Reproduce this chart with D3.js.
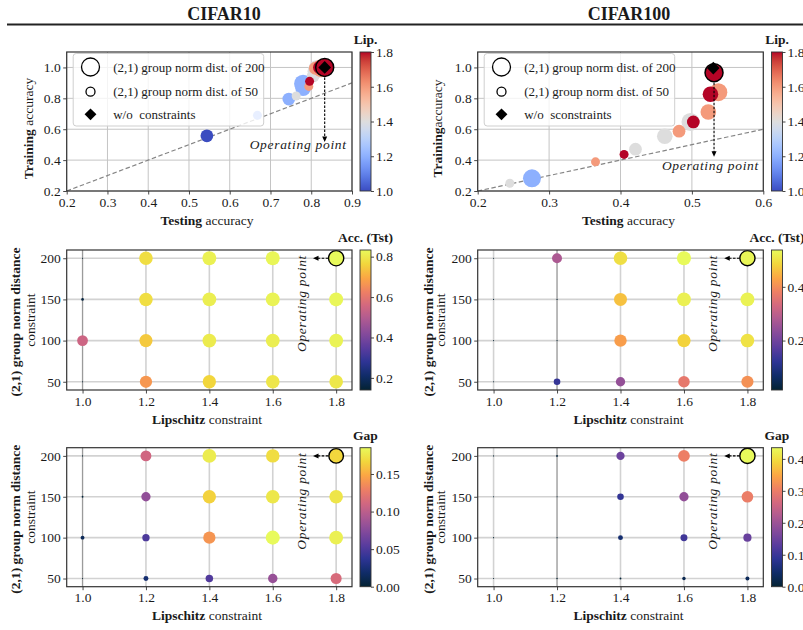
<!DOCTYPE html>
<html><head><meta charset="utf-8">
<script src="https://cdn.jsdelivr.net/npm/d3@7"></script>
<style>
body{margin:0;background:#fff}
svg text{font-family:"Liberation Serif","Times New Roman",serif;fill:#1a1a1a;white-space:pre}
</style></head><body>
<svg id="c" width="803" height="630" xmlns="http://www.w3.org/2000/svg"></svg>
<script>
// ---------------- DATA ----------------
const datasets = ["CIFAR10", "CIFAR100"];
const lipLevels = [1.0, 1.2, 1.4, 1.6, 1.8];
const distLevels = [50, 100, 150, 200];
// rows: Lipschitz 1.0..1.8 ; columns: group-norm distance 50,100,150,200
const c10Test = [
  [0.14, 0.544, 0.16, 0.14],
  [0.668, 0.745, 0.78, 0.78],
  [0.763, 0.805, 0.81, 0.815],
  [0.794, 0.81, 0.82, 0.825],
  [0.796, 0.82, 0.826, 0.833]];
const c10Train = [
  [0.14, 0.557, 0.16, 0.14],
  [0.69, 0.795, 0.865, 0.895],
  [0.815, 0.945, 0.975, 0.99],
  [0.877, 0.995, 0.995, 0.995],
  [0.91, 1.0, 1.0, 1.0]];
const c10Gap = [
  [0.0, 0.013, 0.002, 0.0],
  [0.022, 0.05, 0.08, 0.11],
  [0.052, 0.14, 0.165, 0.178],
  [0.083, 0.185, 0.175, 0.17],
  [0.114, 0.18, 0.174, 0.167]];
const c100Test = [
  [0.016, 0.016, 0.016, 0.016],
  [0.13, 0.016, 0.016, 0.276],
  [0.245, 0.421, 0.462, 0.498],
  [0.365, 0.482, 0.523, 0.537],
  [0.405, 0.502, 0.526, 0.531]];
const c100Train = [
  [0.016, 0.016, 0.016, 0.016],
  [0.13, 0.016, 0.016, 0.282],
  [0.25, 0.471, 0.555, 0.647],
  [0.389, 0.587, 0.712, 0.84],
  [0.437, 0.647, 0.826, 0.966]];
const c100Gap = [
  [0.0, 0.0, 0.0, 0.0],
  [0.002, 0.0, 0.0, 0.006],
  [0.005, 0.05, 0.093, 0.149],
  [0.024, 0.105, 0.189, 0.303],
  [0.032, 0.145, 0.30, 0.435]];
const c10NoConstraint = [0.833, 1.0];
const c100NoConstraint = [0.530, 0.996];
const operatingLip = 1.8, operatingDist = 200;
// tick labels
const c10TestTicks = [0.2, 0.3, 0.4, 0.5, 0.6, 0.7, 0.8, 0.9];
const c100TestTicks = [0.2, 0.3, 0.4, 0.5, 0.6];
const trainTicks = [0.2, 0.4, 0.6, 0.8, 1.0];
const lipCbTicks = [1.0, 1.2, 1.4, 1.6, 1.8];
const c10AccCbTicks = [0.2, 0.4, 0.6, 0.8];
const c100AccCbTicks = [0.2, 0.4];
const c10GapCbTicks = [0.0, 0.05, 0.10, 0.15];
const c100GapCbTicks = [0.0, 0.1, 0.2, 0.3, 0.4];
const legendLabels10 = ["(2,1) group norm dist. of 200", "(2,1) group norm dist. of 50", "w/o  constraints"];
const legendLabels100 = ["(2,1) group norm dist. of 200", "(2,1) group norm dist. of 50", "w/o  sconstraints"];
// colormap stops
const coolwarmStops = [[59,76,192],[68,90,204],[77,104,215],[87,117,225],[98,130,234],[108,142,241],[119,154,247],[130,165,251],[141,176,254],[152,185,255],[163,194,255],[174,201,253],[184,208,249],[194,213,244],[204,217,238],[213,219,230],[221,221,221],[229,216,209],[236,211,197],[241,204,185],[245,196,173],[247,187,160],[247,177,148],[247,166,135],[244,154,123],[241,141,111],[236,127,99],[229,112,88],[222,96,77],[213,80,66],[203,62,56],[192,40,47],[180,4,38]];
const thermalStops = [[4,35,51],[16,44,104],[45,52,148],[90,60,158],[132,74,155],[172,89,146],[210,103,128],[238,127,100],[251,166,68],[242,214,60],[232,250,91]];

// ---------------- LAYOUT ----------------
const svg = d3.select("#c");
const defs = svg.append("defs");
const cols = [{x0:66.7, x1:352, cb:360, xl:207, yl1:15, yl2:30, ylTop:28.3},
              {x0:477.7, x1:763.3, cb:771.5, xl:628.5, yl1:428, yl2:440.5, ylTop:437.3}];
const rows = [{y0:52, y1:191}, {y0:250, y1:390}, {y0:447.7, y1:586.7}];
const cbW = 11;
const trainDom = [0.2, 1.1];
const gridXDom = [0.95, 1.85], gridYDom = [40, 210];

function stopScale(stops){
  return d3.scaleLinear().domain(stops.map((d,i)=>i/(stops.length-1)))
    .range(stops.map(c=>`rgb(${c[0]},${c[1]},${c[2]})`)).interpolate(d3.interpolateRgb).clamp(true);
}
const coolwarmBase = stopScale(coolwarmStops);
const thermalBase = stopScale(thermalStops);
const lipColor = d3.scaleLinear().domain([1.0, 1.8]).range([0,1]);
const coolwarm = v => coolwarmBase(lipColor(v));
const rDist = d3.scaleSqrt().domain([0, 200]).range([0, 9]);

// titles
datasets.forEach((t,i)=>{
  svg.append("text").attr("x", i===0?224:629).attr("y", 19.5).attr("text-anchor","middle")
    .attr("font-size", 18).attr("font-weight","bold").text(t);
});
svg.append("line").attr("x1",7).attr("x2",803).attr("y1",24.5).attr("y2",24.5).attr("stroke","#222").attr("stroke-width",1.8);

function styleAxis(a){
  a.select(".domain").remove();
  a.selectAll(".tick line").attr("stroke","#333").attr("stroke-width",0.9);
  a.selectAll(".tick text").attr("font-size",13.5).attr("fill","#222")
    .attr("font-family",'"Liberation Serif","Times New Roman",serif');
}
function mixedLabel(g, x, y, bold, normal, rotate, anchor){
  const t = g.append("text").attr("text-anchor", anchor||"middle").attr("font-size",13.5)
    .attr("transform", `translate(${x},${y})` + (rotate?" rotate(-90)":"")).attr("dy","0.35em");
  if (bold) t.append("tspan").attr("font-weight","bold").text(bold);
  if (normal) t.append("tspan").text(normal);
  return t;
}
function frame(g, c, r){
  g.append("rect").attr("x",c.x0).attr("y",r.y0).attr("width",c.x1-c.x0).attr("height",r.y1-r.y0)
    .attr("fill","none").attr("stroke","#333").attr("stroke-width",1.2);
}
function colorbar(id, x, r, dom, colorFn, ticks, fmt, title){
  const grad = defs.append("linearGradient").attr("id",id).attr("x1",0).attr("y1",1).attr("x2",0).attr("y2",0);
  d3.range(41).forEach(i=>{
    grad.append("stop").attr("offset", i/40).attr("stop-color", colorFn(dom[0] + (dom[1]-dom[0])*i/40));
  });
  const g = svg.append("g");
  g.append("rect").attr("x",x).attr("y",r.y0).attr("width",cbW).attr("height",r.y1-r.y0)
    .attr("fill",`url(#${id})`).attr("stroke","#333").attr("stroke-width",0.9);
  const s = d3.scaleLinear().domain(dom).range([r.y1, r.y0]);
  const a = g.append("g").attr("transform",`translate(${x+cbW},0)`)
    .call(d3.axisRight(s).tickValues(ticks).tickFormat(d3.format(fmt)).tickSize(3).tickPadding(2));
  styleAxis(a);
  g.append("text").attr("x", x+cbW/2).attr("y", r.y0-8).attr("text-anchor","middle")
    .attr("font-size",13.5).attr("font-weight","bold").text(title);
}

function drawScatter(ci, test, train, woc, xDom, xTicks, legendLabels, yBoldSpace, annot){
  const c = cols[ci], r = rows[0];
  const g = svg.append("g");
  const x = d3.scaleLinear().domain(xDom).range([c.x0, c.x1]);
  const y = d3.scaleLinear().domain(trainDom).range([r.y1, r.y0]);
  const clipId = "clipS"+ci;
  defs.append("clipPath").attr("id",clipId).append("rect")
    .attr("x",c.x0).attr("y",r.y0).attr("width",c.x1-c.x0).attr("height",r.y1-r.y0);
  g.selectAll(null).data(xTicks).join("line").attr("x1",d=>x(d)).attr("x2",d=>x(d))
    .attr("y1",r.y0).attr("y2",r.y1).attr("stroke","#c4c4c4").attr("stroke-width",1);
  g.selectAll(null).data(trainTicks).join("line").attr("y1",d=>y(d)).attr("y2",d=>y(d))
    .attr("x1",c.x0).attr("x2",c.x1).attr("stroke","#c4c4c4").attr("stroke-width",1);
  const pg = g.append("g").attr("clip-path",`url(#${clipId})`);
  pg.append("line").attr("x1",x(xDom[0])).attr("y1",y(xDom[0])).attr("x2",x(xDom[1])).attr("y2",y(xDom[1]))
    .attr("stroke","#858585").attr("stroke-width",1.2).attr("stroke-dasharray","4.5,2.5");
  const pts = [];
  lipLevels.forEach((L,i)=>distLevels.forEach((D,j)=>pts.push({lip:L, dist:D, t:test[i][j], tr:train[i][j]})));
  const vis = pts.filter(p=>p.t>=xDom[0] && p.t<=xDom[1] && p.tr>=trainDom[0] && p.tr<=trainDom[1]);
  const op = vis.find(p=>p.lip===operatingLip && p.dist===operatingDist);
  pg.selectAll("circle.p").data(vis.filter(p=>p!==op)).join("circle").attr("class","p")
    .attr("cx",p=>x(p.t)).attr("cy",p=>y(p.tr)).attr("r",p=>rDist(p.dist)).attr("fill",p=>coolwarm(p.lip));
  pg.append("circle").attr("cx",x(op.t)).attr("cy",y(op.tr)).attr("r",rDist(op.dist))
    .attr("fill",coolwarm(op.lip)).attr("stroke","#000").attr("stroke-width",1.5);
  pg.append("path").attr("d", d3.symbol(d3.symbolSquare, 80)())
    .attr("transform",`translate(${x(woc[0])},${y(woc[1])}) rotate(45)`).attr("fill","#000");
  // annotation arrow
  const ax = x(op.t), aTop = y(op.tr)+rDist(op.dist)+1, aBot = y(annot[1]);
  g.append("line").attr("x1",ax).attr("x2",ax).attr("y1",aTop).attr("y2",aBot-4)
    .attr("stroke","#000").attr("stroke-width",1.1).attr("stroke-dasharray","2.5,1.5");
  g.append("path").attr("d",`M${ax},${aBot} L${ax-2.5},${aBot-5.5} L${ax+2.5},${aBot-5.5} Z`).attr("fill","#000");
  g.append("text").attr("x",x(annot[2])).attr("y",y(annot[3])).attr("text-anchor","middle")
    .attr("font-size",13.5).attr("font-style","italic").attr("letter-spacing",0.7).text("Operating point");
  // legend
  const lx = c.x0+6.5, ly = r.y0+1.5;
  const lg = g.append("g");
  lg.append("rect").attr("x",lx).attr("y",ly).attr("width",190.5).attr("height",72.5).attr("rx",3)
    .attr("fill","#fff").attr("fill-opacity",0.8).attr("stroke","#cfcfcf").attr("stroke-width",1);
  const ys = [ly+13.5, ly+38.2, ly+60.8];
  lg.append("circle").attr("cx",lx+17.3).attr("cy",ys[0]).attr("r",rDist(200)).attr("fill","#fff").attr("stroke","#000").attr("stroke-width",1.3);
  lg.append("circle").attr("cx",lx+17.3).attr("cy",ys[1]).attr("r",rDist(50)).attr("fill","#fff").attr("stroke","#000").attr("stroke-width",1.3);
  lg.append("path").attr("d", d3.symbol(d3.symbolSquare, 70)()).attr("transform",`translate(${lx+17.3},${ys[2]}) rotate(45)`).attr("fill","#000");
  legendLabels.forEach((t,i)=>lg.append("text").attr("x",lx+40).attr("y",ys[i]).attr("dy","0.35em").attr("font-size",13).text(t));
  frame(g, c, r);
  const xa = g.append("g").attr("transform",`translate(0,${r.y1})`)
    .call(d3.axisBottom(x).tickValues(xTicks).tickFormat(d3.format(".1f")).tickSize(3.5).tickPadding(2.5));
  styleAxis(xa);
  const ya = g.append("g").attr("transform",`translate(${c.x0},0)`)
    .call(d3.axisLeft(y).tickValues(trainTicks).tickFormat(d3.format(".1f")).tickSize(3.5).tickPadding(2.5));
  styleAxis(ya);
  mixedLabel(g, c.xl, r.y1+29, "Testing", " accuracy", false);
  mixedLabel(g, c.ylTop, 128.5, "Training", yBoldSpace ? " accuracy" : "accuracy", true);
  colorbar("cbLip"+ci, c.cb, r, [1.0, 1.8], coolwarm, lipCbTicks, ".1f", "Lip.");
}

function drawGrid(ci, ri, vals, cbTicks, cbFmt, cbTitle, darkLip){
  const c = cols[ci], r = rows[ri];
  const g = svg.append("g");
  const x = d3.scaleLinear().domain(gridXDom).range([c.x0, c.x1]);
  const y = d3.scaleLinear().domain(gridYDom).range([r.y1, r.y0]);
  g.selectAll(null).data(lipLevels).join("line").attr("x1",d=>x(d)).attr("x2",d=>x(d))
    .attr("y1",r.y0).attr("y2",r.y1).attr("stroke","#d2d2d2").attr("stroke-width",1.6);
  g.selectAll(null).data(distLevels).join("line").attr("y1",d=>y(d)).attr("y2",d=>y(d))
    .attr("x1",c.x0).attr("x2",c.x1).attr("stroke","#d2d2d2").attr("stroke-width",1.6);
  g.append("line").attr("x1",x(darkLip)).attr("x2",x(darkLip)).attr("y1",r.y0).attr("y2",r.y1)
    .attr("stroke","#8a8a8a").attr("stroke-width",0.8);
  const pts = [];
  lipLevels.forEach((L,i)=>distLevels.forEach((D,j)=>pts.push({lip:L, dist:D, v:vals[i][j]})));
  const ext = d3.extent(pts, p=>p.v);
  const norm = d3.scaleLinear().domain(ext).range([0,1]);
  const color = v => thermalBase(norm(v));
  const area = d3.scaleLinear().domain(ext).range([1, 155]);
  const rad = v => Math.sqrt(area(v)/Math.PI);
  const op = pts.find(p=>p.lip===operatingLip && p.dist===operatingDist);
  g.selectAll("circle.p").data(pts.filter(p=>p!==op)).join("circle").attr("class","p")
    .attr("cx",p=>x(p.lip)).attr("cy",p=>y(p.dist)).attr("r",p=>rad(p.v)).attr("fill",p=>color(p.v));
  g.append("circle").attr("cx",x(op.lip)).attr("cy",y(op.dist)).attr("r",rad(op.v)+0.6)
    .attr("fill",color(op.v)).attr("stroke","#000").attr("stroke-width",1.4);
  // annotation
  const ay = y(op.dist), xs = x(1.775), xh = x(1.727);
  g.append("line").attr("x1",xs).attr("x2",xh+4).attr("y1",ay).attr("y2",ay)
    .attr("stroke","#000").attr("stroke-width",1.1).attr("stroke-dasharray","2.5,1.5");
  g.append("path").attr("d",`M${xh},${ay} L${xh+5.5},${ay-2.5} L${xh+5.5},${ay+2.5} Z`).attr("fill","#000");
  g.append("text").attr("transform",`translate(${x(1.689)},${y(204)}) rotate(-90)`).attr("dy","0.35em")
    .attr("text-anchor","end").attr("font-size",13.5).attr("font-style","italic").attr("letter-spacing",0.7)
    .text("Operating point");
  frame(g, c, r);
  const xa = g.append("g").attr("transform",`translate(0,${r.y1})`)
    .call(d3.axisBottom(x).tickValues(lipLevels).tickFormat(d3.format(".1f")).tickSize(3.5).tickPadding(2.5));
  styleAxis(xa);
  const ya = g.append("g").attr("transform",`translate(${c.x0},0)`)
    .call(d3.axisLeft(y).tickValues(distLevels).tickFormat(d3.format("d")).tickSize(3.5).tickPadding(2.5));
  styleAxis(ya);
  mixedLabel(g, c.xl, r.y1+29, "Lipschitz", " constraint", false);
  const yc = (r.y0+r.y1)/2;
  mixedLabel(g, c.yl1, yc+2, "(2,1) group norm distance", null, true);
  mixedLabel(g, c.yl2, yc, null, "constraint", true);
  colorbar(`cb${ci}${ri}`, c.cb, r, ext, color, cbTicks, cbFmt, cbTitle);
}

drawScatter(0, c10Test, c10Train, c10NoConstraint, [0.2,0.9], c10TestTicks, legendLabels10, true, [0,0.518,0.768,0.47]);
drawScatter(1, c100Test, c100Train, c100NoConstraint, [0.2,0.6], c100TestTicks, legendLabels100, false, [0,0.421,0.526,0.333]);
drawGrid(0, 1, c10Test, c10AccCbTicks, ".1f", "Acc. (Tst)", 1.0);
drawGrid(1, 1, c100Test, c100AccCbTicks, ".1f", "Acc. (Tst)", 1.2);
drawGrid(0, 2, c10Gap, c10GapCbTicks, ".2f", "Gap", 1.0);
drawGrid(1, 2, c100Gap, c100GapCbTicks, ".1f", "Gap", 1.2);
</script>
</body></html>
